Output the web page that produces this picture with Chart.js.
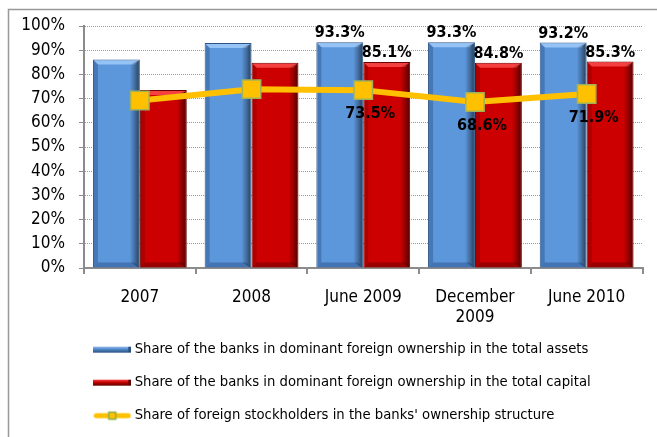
<!DOCTYPE html>
<html>
<head>
<meta charset="utf-8">
<script src="https://cdn.jsdelivr.net/npm/chart.js@4.4.1/dist/chart.umd.min.js"></script>
<style>
  html, body { margin: 0; padding: 0; background: #fff; }
  #wrap { width: 657px; height: 437px; }
</style>
</head>
<body>
<div id="wrap"><canvas id="chart" width="657" height="437"></canvas></div>
<script>
// Reporting periods
const categories = ['2007', '2008', 'June 2009', ['December', '2009'], 'June 2010'];

// Shares, in percent
const assetsShare = [86.2, 93.0, 93.3, 93.3, 93.2];
const capitalShare = [73.6, 84.8, 85.1, 84.8, 85.3];
const stockholdersShare = [69.2, 73.9, 73.5, 68.6, 71.9];

// Periods whose values are printed on the chart
const valueLabelShown = [false, false, true, true, true];

const seriesNames = [
  'Share of the banks in dominant foreign ownership in the total assets',
  'Share of the banks in dominant foreign ownership in the total capital',
  "Share of foreign stockholders in the banks' ownership structure"
];

const yMin = 0, yMax = 100, yStep = 10;

const FONT = '"DejaVu Sans Condensed", "DejaVu Sans", sans-serif';

// Small swatches used as legend symbols
function barSwatch(light, mid, dark) {
  const c = document.createElement('canvas');
  c.width = 38; c.height = 8;
  const g = c.getContext('2d');
  const grad = g.createLinearGradient(0, 1, 0, 7);
  grad.addColorStop(0, light);
  grad.addColorStop(0.45, mid);
  grad.addColorStop(1, dark);
  g.fillStyle = grad;
  g.fillRect(0, 1, 38, 6);
  g.fillStyle = dark;
  g.fillRect(35, 1, 3, 6);
  return c;
}
function lineSwatch() {
  const c = document.createElement('canvas');
  c.width = 38; c.height = 12;
  const g = c.getContext('2d');
  g.strokeStyle = '#FFC000';
  g.lineWidth = 5;
  g.lineCap = 'round';
  g.beginPath(); g.moveTo(3, 6); g.lineTo(35, 6); g.stroke();
  g.fillStyle = '#FFC000';
  g.fillRect(15, 2, 8, 8);
  g.strokeStyle = '#8DB04A';
  g.lineWidth = 1.5;
  g.strokeRect(15.5, 2.5, 7, 7);
  return c;
}
const swatches = [
  barSwatch('#8DB9F0', '#4F86C6', '#2B4F7E'),
  barSwatch('#FF4040', '#C00000', '#600000'),
  lineSwatch()
];

// White page with the grey frame
const framePlugin = {
  id: 'frame',
  beforeDraw(chart) {
    const ctx = chart.ctx;
    ctx.save();
    ctx.fillStyle = '#fff';
    ctx.fillRect(0, 0, chart.width, chart.height);
    ctx.strokeStyle = '#999';
    ctx.lineWidth = 1.5;
    ctx.strokeRect(8.5, 9.5, chart.width + 20, chart.height + 20);
    ctx.restore();
  }
};

// Legend block is indented under the plot
const legendIndent = {
  id: 'legendIndent',
  afterLayout(chart) {
    const lg = chart.legend;
    if (!lg) return;
    lg.left += 58;
    lg.right += 58;
  }
};

// Bevelled look for the columns
const bevelPlugin = {
  id: 'bevel',
  afterDatasetDraw(chart, args) {
    const meta = args.meta;
    if (meta.type !== 'bar') return;
    const ctx = chart.ctx;
    const isBlue = meta.index === 0;
    const topCol = isBlue ? 'rgba(170,210,255,0.75)' : 'rgba(255,80,80,0.8)';
    const sideL = isBlue ? 'rgba(20,50,100,0.30)' : 'rgba(80,0,0,0.25)';
    const bottomCol = isBlue ? 'rgba(20,50,100,0.35)' : 'rgba(60,0,0,0.35)';
    const b = 5;
    ctx.save();
    meta.data.forEach(el => {
      const p = el.getProps(['x', 'y', 'base', 'width'], true);
      const l = p.x - p.width / 2, r = p.x + p.width / 2, t = p.y, bt = p.base;
      // top strip
      ctx.fillStyle = topCol;
      ctx.beginPath();
      ctx.moveTo(l + 1, t + 1); ctx.lineTo(r - 1, t + 1); ctx.lineTo(r - b, t + b); ctx.lineTo(l + b, t + b);
      ctx.closePath(); ctx.fill();
      // left strip
      ctx.fillStyle = sideL;
      ctx.beginPath();
      ctx.moveTo(l + 1, t + 1); ctx.lineTo(l + b, t + b); ctx.lineTo(l + b, bt - b); ctx.lineTo(l + 1, bt);
      ctx.closePath(); ctx.fill();
      // right shading
      const rg = ctx.createLinearGradient(r - 2 * b, 0, r, 0);
      rg.addColorStop(0, 'rgba(0,0,0,0)');
      rg.addColorStop(0.45, 'rgba(0,0,0,0.25)');
      rg.addColorStop(1, 'rgba(0,0,0,0.6)');
      ctx.fillStyle = rg;
      ctx.beginPath();
      ctx.moveTo(r - 1, t + 1); ctx.lineTo(r - 1, bt); ctx.lineTo(r - 2 * b, bt - b); ctx.lineTo(r - 2 * b, t + b);
      ctx.closePath(); ctx.fill();
      // bottom strip
      ctx.fillStyle = bottomCol;
      ctx.beginPath();
      ctx.moveTo(l + 1, bt); ctx.lineTo(r - 1, bt); ctx.lineTo(r - b, bt - b); ctx.lineTo(l + b, bt - b);
      ctx.closePath(); ctx.fill();
    });
    ctx.restore();
  }
};

// Printed values
const valueLabelPlugin = {
  id: 'valueLabels',
  afterDatasetsDraw(chart) {
    const ctx = chart.ctx;
    ctx.save();
    ctx.font = 'bold 16px ' + FONT;
    ctx.fillStyle = '#000';
    ctx.textAlign = 'center';
    chart.data.datasets.forEach((ds, di) => {
      const meta = chart.getDatasetMeta(di);
      meta.data.forEach((el, i) => {
        if (!valueLabelShown[i]) return;
        const txt = ds.data[i].toFixed(1) + '%';
        if (meta.type === 'bar') {
          ctx.textBaseline = 'bottom';
          ctx.fillText(txt, el.x, el.y - 1);
        } else {
          ctx.textBaseline = 'middle';
          ctx.fillText(txt, el.x + 7, el.y + 24);
        }
      });
    });
    ctx.restore();
  }
};

new Chart(document.getElementById('chart'), {
  type: 'bar',
  data: {
    labels: categories,
    datasets: [
      {
        label: seriesNames[0],
        data: assetsShare,
        order: 1,
        backgroundColor: '#5C97DC',
        borderColor: '#2E5485',
        borderWidth: 1,
        categoryPercentage: 0.84,
        barPercentage: 1.0
      },
      {
        label: seriesNames[1],
        data: capitalShare,
        order: 2,
        backgroundColor: '#CC0000',
        borderColor: '#6A0000',
        borderWidth: 1,
        categoryPercentage: 0.84,
        barPercentage: 1.0
      },
      {
        type: 'line',
        label: seriesNames[2],
        data: stockholdersShare,
        order: 0,
        borderColor: '#FFC000',
        borderWidth: 6,
        tension: 0,
        pointStyle: 'rect',
        pointRadius: 13,
        pointHoverRadius: 13,
        pointBackgroundColor: '#FFC000',
        pointBorderColor: '#A3B25A',
        pointBorderWidth: 1.5
      }
    ]
  },
  options: {
    responsive: false,
    animation: false,
    devicePixelRatio: 1,
    layout: { padding: { top: 26, left: 21, right: 2, bottom: 4 } },
    plugins: {
      tooltip: { enabled: false },
      legend: {
        position: 'bottom',
        align: 'start',
        labels: {
          usePointStyle: true,
          pointStyleWidth: 30,
          padding: 18.3,
          color: '#000',
          font: { family: FONT, size: 14.7 },
          generateLabels(chart) {
            return chart.data.datasets.map((ds, i) => ({
              text: ds.label,
              pointStyle: swatches[i],
              datasetIndex: i,
              hidden: false,
              lineWidth: 0,
              fillStyle: 'rgba(0,0,0,0)',
              strokeStyle: 'rgba(0,0,0,0)',
              fontColor: '#000'
            }));
          }
        }
      }
    },
    scales: {
      x: {
        afterFit(scale) { scale.height = 56; },
        grid: { offset: true, drawOnChartArea: false, tickLength: 6, color: '#8C8C8C', lineWidth: 2 },
        border: { color: '#8C8C8C', width: 2 },
        ticks: { color: '#000', padding: 13, font: { family: FONT, size: 17 } }
      },
      y: {
        min: yMin,
        max: yMax,
        afterFit(scale) { scale.width = 63; },
        grid: { color: '#9A9A9A', lineWidth: 1, tickLength: 5, tickColor: '#8C8C8C' },
        border: { color: '#8C8C8C', width: 2, dash: [1, 1] },
        ticks: {
          stepSize: yStep,
          padding: 14,
          color: '#000',
          font: { family: FONT, size: 17 },
          callback: v => v + '%'
        }
      }
    }
  },
  plugins: [framePlugin, legendIndent, bevelPlugin, valueLabelPlugin]
});
</script>
</body>
</html>
